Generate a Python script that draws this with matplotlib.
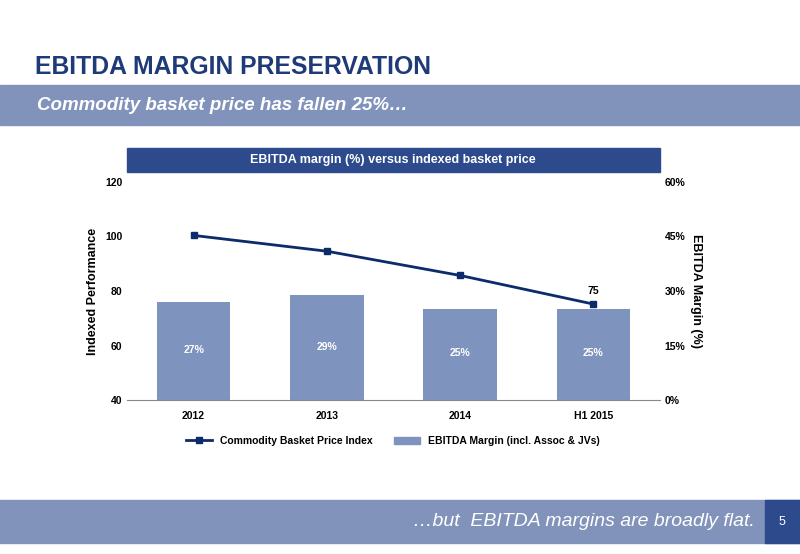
import matplotlib
matplotlib.use("Agg")
import matplotlib.pyplot as plt
from matplotlib.patches import Rectangle
from matplotlib.lines import Line2D

plt.rcParams["font.family"] = ["Liberation Sans", "DejaVu Sans"]

categories = ["2012", "2013", "2014", "H1 2015"]
index_values = [100.4, 94.6, 85.7, 75.2]
margin_values = [27, 29, 25, 25]

W, H = 800, 554
fig = plt.figure(figsize=(W/100, H/100), dpi=100)
navy = "#1f3a78"
band = "#8193bb"
barc = "#7f93bf"

def fx(x): return x / W
def fy(y): return 1 - y / H

fig.text(fx(35), fy(67), "EBITDA MARGIN PRESERVATION", fontsize=17.8, fontweight="bold", color=navy, va="center")
fig.patches.append(Rectangle((0, fy(125)), 1, (125-85)/H, transform=fig.transFigure, color=band, zorder=0))
fig.text(fx(37), fy(105), "Commodity basket price has fallen 25%…", fontsize=13.5, fontweight="bold", style="italic", color="white", va="center")
fig.patches.append(Rectangle((fx(127), fy(172)), (660-127)/W, 24/H, transform=fig.transFigure, color="#2d4a8c", zorder=0))
fig.text(fx(393), fy(160), "EBITDA margin (%) versus indexed basket price", fontsize=9, fontweight="bold", color="white", ha="center", va="center")
fig.patches.append(Rectangle((0, fy(543)), 1, (543-500)/H, transform=fig.transFigure, color=band, zorder=0))
fig.patches.append(Rectangle((fx(765), fy(543)), 35/W, 43/H, transform=fig.transFigure, color="#2d4a8c", zorder=0))
fig.text(fx(755), fy(522), "…but  EBITDA margins are broadly flat.", fontsize=14, style="italic", color="white", ha="right", va="center")
fig.text(fx(782), fy(522), "5", fontsize=9, color="white", ha="center", va="center")

ax = fig.add_axes([fx(127), fy(400), (660-127)/W, (400-182)/H])
ax2 = ax.twinx()
x = range(len(categories))
ax2.bar(x, margin_values, width=0.55, color=barc, zorder=1)
label_y = [13.8, 14.6, 12.9, 12.9]
for i, v in enumerate(margin_values):
    ax2.text(i, label_y[i], f"{v}%", ha="center", va="center", color="white", fontsize=7.5, fontweight="bold")
ax2.set_ylim(0, 60)
ax2.set_yticks([0, 15, 30, 45, 60])
ax2.set_yticklabels(["0%", "15%", "30%", "45%", "60%"])
ax2.set_ylabel("EBITDA Margin (%)", fontsize=9, fontweight="bold", rotation=270, labelpad=12)
ax.set_zorder(ax2.get_zorder() + 1)
ax.patch.set_visible(False)
ax.plot(x, index_values, color="#0d2a6b", lw=2, marker="s", ms=4)
ax.text(3, index_values[3] + 3, "75", ha="center", va="bottom", fontsize=7.5, fontweight="bold")
ax.set_ylim(40, 120)
ax.set_yticks([40, 60, 80, 100, 120])
ax.set_xlim(-0.5, 3.5)
ax.set_xticks(list(x))
ax.set_xticklabels(categories)
ax.set_ylabel("Indexed Performance", fontsize=9, fontweight="bold")
for a in (ax, ax2):
    a.tick_params(labelsize=7.5, length=0)
    for s in a.spines.values():
        s.set_visible(False)
    for lbl in a.get_xticklabels() + a.get_yticklabels():
        lbl.set_fontweight("bold")
ax.spines["bottom"].set_visible(True)
ax.spines["bottom"].set_color("#888888")
ax.tick_params(axis="x", pad=8)

handles = [Line2D([], [], color="#0d2a6b", lw=2, marker="s", ms=4),
           Rectangle((0, 0), 1, 1, color=barc)]
fig.legend(handles, ["Commodity Basket Price Index", "EBITDA Margin (incl. Assoc & JVs)"],
           loc="center", bbox_to_anchor=(fx(393), fy(441)), ncol=2, frameon=False,
           prop={"size": 7.5, "weight": "bold"}, handlelength=2.5, columnspacing=2)
fig.savefig("out.png", dpi=100)
